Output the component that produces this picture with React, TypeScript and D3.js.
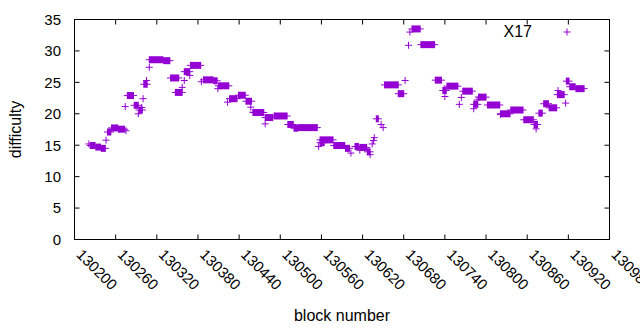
import React from "react";
import * as d3 from "d3";

// Runs of consecutive blocks sharing one difficulty value (start block, end block, difficulty)
const blockStart = [
  130221, 130223, 130231, 130239, 130246, 130248, 130254, 130264, 130275, 130274,
  130277, 130287, 130293, 130294, 130298, 130300, 130301, 130305, 130309, 130309,
  130330, 130340, 130347, 130357, 130360, 130360, 130368, 130369, 130385, 130388,
  130403, 130409, 130410, 130423, 130426, 130439, 130450, 130457, 130460, 130461,
  130478, 130478, 130491, 130511, 130520, 130526, 130556, 130558, 130558, 130578,
  130595, 130603, 130609, 130616, 130616, 130627, 130631, 130634, 130636, 130637,
  130640, 130647, 130650, 130652, 130672, 130682, 130687, 130689, 130692, 130705,
  130726, 130737, 130740, 130743, 130761, 130764, 130766, 130782, 130782, 130787,
  130789, 130802, 130821, 130821, 130836, 130855, 130870, 130873, 130877, 130884,
  130892, 130905, 130904, 130916, 130917, 130922, 130931,
];
const blockEnd = [
  130221, 130230, 130238, 130245, 130246, 130253, 130263, 130273, 130275, 130274,
  130286, 130293, 130293, 130299, 130298, 130300, 130306, 130305, 130309, 130329,
  130339, 130352, 130357, 130357, 130360, 130368, 130368, 130384, 130385, 130402,
  130408, 130409, 130425, 130423, 130437, 130449, 130458, 130457, 130460, 130476,
  130489, 130478, 130510, 130519, 130525, 130554, 130556, 130577, 130564, 130594,
  130601, 130603, 130614, 130616, 130626, 130631, 130631, 130634, 130636, 130637,
  130643, 130647, 130650, 130672, 130680, 130682, 130687, 130689, 130704, 130725,
  130735, 130742, 130740, 130759, 130761, 130764, 130780, 130788, 130782, 130787,
  130800, 130820, 130821, 130835, 130854, 130869, 130875, 130873, 130882, 130891,
  130903, 130905, 130914, 130916, 130921, 130930, 130943,
];
const difficulty = [
  15.2, 14.95, 14.7, 14.5, 15.8, 17.1, 17.75, 17.55, 17.3, 21.15,
  22.9, 21.35, 20.0, 20.6, 21.0, 22.4, 24.7, 25.3, 27.4, 28.6,
  28.45, 25.7, 23.4, 24.2, 25.3, 26.7, 26.1, 27.7, 25.1, 25.4,
  25.25, 24.0, 24.45, 21.85, 22.4, 22.95, 22.0, 21.05, 20.25, 20.2,
  19.4, 18.4, 19.65, 18.3, 17.7, 17.8, 14.8, 15.85, 15.4, 14.95,
  14.5, 13.75, 14.8, 14.2, 14.65, 13.95, 13.5, 15.2, 15.75, 16.2,
  19.2, 18.3, 17.8, 24.6, 23.2, 25.3, 30.9, 33.0, 33.5, 31.0,
  25.35, 23.7, 22.75, 24.4, 21.5, 22.6, 23.6, 21.5, 20.8, 22.2,
  22.65, 21.4, 19.9, 20.0, 20.6, 19.05, 18.3, 17.6, 20.1, 21.6,
  20.95, 23.7, 23.05, 21.7, 25.2, 24.3, 24.0,
];

const xTicks = [130200, 130260, 130320, 130380, 130440, 130500, 130560, 130620, 130680, 130740, 130800, 130860, 130920, 130980];
const yTicks = [0, 5, 10, 15, 20, 25, 30, 35];
const seriesName = "X17";
const xTitle = "block number";
const yTitle = "difficulty";

const W = 640;
const H = 330;
const left = 74.5, right = 609.5, top = 19.5, bottom = 239.5;
const COLOR = "#9400d3";
const FONT = "'Liberation Sans', Arial, sans-serif";
const ARM = 3.5;
const TICK = 5;

export default function App() {
  const x = d3.scaleLinear().domain([130200, 130980]).range([left, right]);
  const y = d3.scaleLinear().domain([0, 35]).range([bottom, top]);

  const runs = blockStart.map((s, i) => ({ s, e: blockEnd[i], d: difficulty[i] }));

  return (
    <svg width={W} height={H} style={{ position: "absolute", left: 0, top: 0, background: "#fff" }} fontFamily={FONT}>
      <rect x={0} y={0} width={W} height={H} fill="#fff" />
      {/* ticks */}
      <g stroke="#000" strokeWidth={1}>
        {yTicks.map((t) => {
          const yy = Math.round(y(t)) + 0.5 - 1;
          return (
            <g key={"y" + t}>
              <line x1={left} x2={left + TICK} y1={y(t)} y2={y(t)} />
              <line x1={right} x2={right - TICK} y1={y(t)} y2={y(t)} />
            </g>
          );
        })}
        {xTicks.map((t) => (
          <g key={"x" + t}>
            <line x1={x(t)} x2={x(t)} y1={bottom} y2={bottom - TICK} />
            <line x1={x(t)} x2={x(t)} y1={top} y2={top + TICK} />
          </g>
        ))}
      </g>
      {/* tick labels */}
      <g fontSize={15} fill="#000">
        {yTicks.map((t) => (
          <text key={"yl" + t} x={61} y={y(t)} dy="0.36em" textAnchor="end">
            {t}
          </text>
        ))}
        {xTicks.map((t) => (
          <text key={"xl" + t} transform={`translate(${x(t) + 1},${bottom + 16}) rotate(45)`} textAnchor="start">
            {t}
          </text>
        ))}
      </g>
      {/* axis titles */}
      <text x={(left + right) / 2} y={321} fontSize={16} textAnchor="middle">
        {xTitle}
      </text>
      <text transform={`translate(21,${(top + bottom) / 2}) rotate(-90)`} fontSize={16} textAnchor="middle">
        {yTitle}
      </text>
      {/* data */}
      <g>
        {runs.map((r, i) => {
          const x0 = x(r.s);
          const x1 = x(r.e);
          const yy = y(r.d);
          return (
            <g key={i}>
              <rect x={x0 - 0.5} width={x1 - x0 + 1} y={yy - ARM} height={ARM * 2} fill={COLOR} />
              <line x1={x0 - ARM} x2={x1 + ARM} y1={yy} y2={yy} stroke={COLOR} strokeWidth={1} />
            </g>
          );
        })}
      </g>
      {/* legend */}
      <text x={532} y={37} fontSize={16} textAnchor="end">
        {seriesName}
      </text>
      <g stroke={COLOR} strokeWidth={1}>
        <line x1={567 - ARM} x2={567 + ARM} y1={32} y2={32} />
        <line x1={567} x2={567} y1={32 - ARM} y2={32 + ARM} />
      </g>
      {/* border */}
      <rect x={left} y={top} width={right - left} height={bottom - top} fill="none" stroke="#000" strokeWidth={1} />
    </svg>
  );
}
